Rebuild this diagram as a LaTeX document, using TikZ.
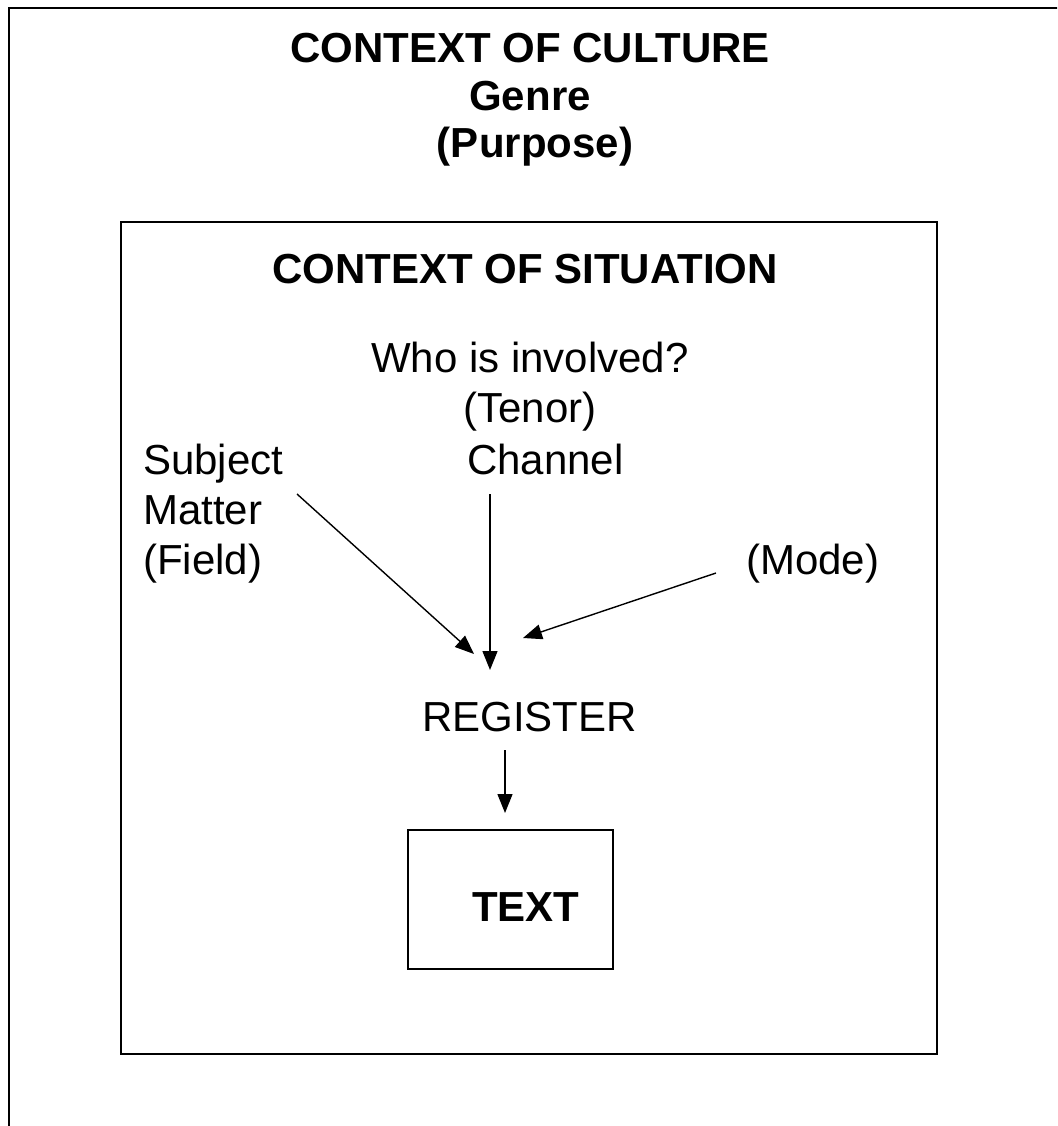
\documentclass[tikz,border=0pt]{standalone}
\usepackage{fontspec}
\setmainfont{Liberation Sans}
\usetikzlibrary{arrows.meta}
\begin{document}
\begin{tikzpicture}[x=1pt,y=-1pt,
  lbl/.style={inner sep=0pt, font=\fontsize{42}{48}\selectfont},
  blbl/.style={lbl, font=\fontsize{42}{48}\selectfont\bfseries},
  frame/.style={draw=black, line width=2pt},
  conn/.style={line width=1.4pt, -{Triangle[length=19pt,width=15pt]}}]
\useasboundingbox (0,0) rectangle (1057,1126);
\clip (0,0) rectangle (1057,1126);
\fill[white] (0,0) rectangle (1057,1126);
% outer box (extends beyond the page on the right and bottom)
\draw[line width=2.6pt] (9,8) rectangle (1120,1200);
% inner box
\draw[frame] (121,222) rectangle (937,1054);
% header texts
\node[blbl, anchor=base] (culture) at (530,63) {CONTEXT OF CULTURE};
\node[blbl, anchor=base] (genre) at (530,111) {Genre};
\node[blbl, anchor=base] (purpose) at (535,158) {(Purpose)};
\node[blbl, anchor=base] (situation) at (525,283) {CONTEXT OF SITUATION};
% labels
\node[lbl, anchor=base] (who) at (530,372) {Who is involved?};
\node[lbl, anchor=base] (tenor) at (530,422) {(Tenor)};
\node[lbl, anchor=base west] (channel) at (467,474) {Channel};
\node[lbl, anchor=base west] (subject) at (143,474) {Subject};
\node[lbl, anchor=base west] (matter) at (143,524) {Matter};
\node[lbl, anchor=base west] (field) at (143,574) {(Field)};
\node[lbl, anchor=base west] (mode) at (746,574) {(Mode)};
\node[lbl, anchor=base west] (register) at (422,731) {REGISTER};
% text box
\node[frame, minimum width=205pt, minimum height=139pt, inner sep=0pt] (textbox) at (510.5,899.5) {};
\node[blbl, anchor=base west] (textlbl) at (472,921) {TEXT};
% connector end points
\coordinate (s1) at (297,494);
\coordinate (s2) at (474,654);
\coordinate (c1) at (490,494);
\coordinate (c2) at (490,670);
\coordinate (m1) at (716,573);
\coordinate (m2) at (523,638);
\coordinate (r1) at (505,750);
\coordinate (r2) at (505,813);
\draw[conn] (s1) -- (s2);
\draw[conn] (c1) -- (c2);
\draw[conn] (m1) -- (m2);
\draw[conn] (r1) -- (r2);
\end{tikzpicture}
\end{document}
